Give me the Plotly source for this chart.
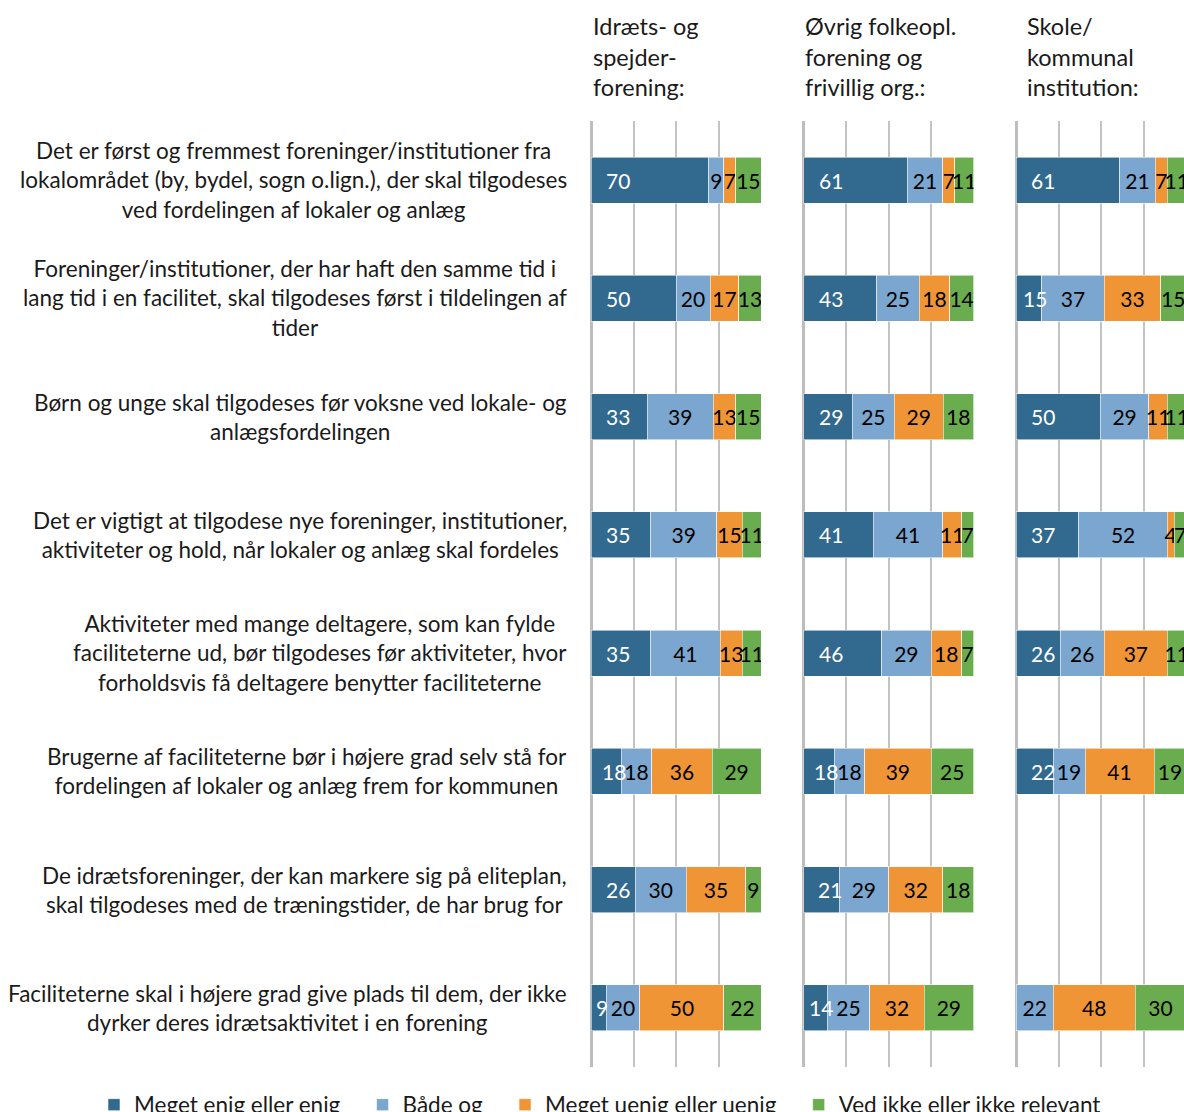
import plotly.graph_objects as go

# Statements (one row per statement, top to bottom)
statements = [
    "Det er først og fremmest foreninger/institutioner fra<br>lokalområdet (by, bydel, sogn o.lign.), der skal tilgodeses<br>ved fordelingen af lokaler og anlæg",
    "Foreninger/institutioner, der har haft den samme tid i<br>lang tid i en facilitet, skal tilgodeses først i tildelingen af<br>tider",
    "Børn og unge skal tilgodeses før voksne ved lokale- og<br>anlægsfordelingen",
    "Det er vigtigt at tilgodese nye foreninger, institutioner,<br>aktiviteter og hold, når lokaler og anlæg skal fordeles",
    "Aktiviteter med mange deltagere, som kan fylde<br>faciliteterne ud, bør tilgodeses før aktiviteter, hvor<br>forholdsvis få deltagere benytter faciliteterne",
    "Brugerne af faciliteterne bør i højere grad selv stå for<br>fordelingen af lokaler og anlæg frem for kommunen",
    "De idrætsforeninger, der kan markere sig på eliteplan,<br>skal tilgodeses med de træningstider, de har brug for",
    "Faciliteterne skal i højere grad give plads til dem, der ikke<br>dyrker deres idrætsaktivitet i en forening",
]

groups = [
    "Idræts- og<br>spejder-<br>forening:",
    "Øvrig folkeopl.<br>forening og<br>frivillig org.:",
    "Skole/<br>kommunal<br>institution:",
]

answers = ["Meget enig eller enig", "Både og", "Meget uenig eller uenig", "Ved ikke eller ikke relevant"]

# Idræts- og spejderforening
idraet_enig = [70, 50, 33, 35, 35, 18, 26, 9]
idraet_baade = [9, 20, 39, 39, 41, 18, 30, 20]
idraet_uenig = [7, 17, 13, 15, 13, 36, 35, 50]
idraet_vedikke = [15, 13, 15, 11, 11, 29, 9, 22]

# Øvrig folkeoplysende forening og frivillig organisation
oevrig_enig = [61, 43, 29, 41, 46, 18, 21, 14]
oevrig_baade = [21, 25, 25, 41, 29, 18, 29, 25]
oevrig_uenig = [7, 18, 29, 11, 18, 39, 32, 32]
oevrig_vedikke = [11, 14, 18, 7, 7, 25, 18, 29]

# Skole / kommunal institution (no answers for the elite statement)
skole_enig = [61, 15, 50, 37, 26, 22, None, 0]
skole_baade = [21, 37, 29, 52, 26, 19, None, 22]
skole_uenig = [7, 33, 11, 4, 37, 41, None, 48]
skole_vedikke = [11, 15, 11, 7, 11, 19, None, 30]

panels = [
    [idraet_enig, idraet_baade, idraet_uenig, idraet_vedikke],
    [oevrig_enig, oevrig_baade, oevrig_uenig, oevrig_vedikke],
    [skole_enig, skole_baade, skole_uenig, skole_vedikke],
]

colors = ["#31698F", "#7AA6CF", "#F09536", "#69AD4E"]
FONT = "Lato"
TEXT = "#1a1a1a"
LEGEND_PAD = "\u00a0" * 3  # extra room between legend entries

W, H = 1184, 1112
# panel pixel extents (100 % = 170 px)
panel_left = [591, 803.5, 1016]
panel_w = 170
plot_top, plot_bottom = 121, 1067

fig = go.Figure()
annotations = []

for p, series in enumerate(panels):
    xa = "x" if p == 0 else f"x{p + 1}"
    ya = "y" if p == 0 else f"y{p + 1}"
    for s, vals in enumerate(series):
        text = None if s == 0 else [("" if v is None else str(v)) for v in vals]
        legend_name = answers[s] + (LEGEND_PAD if s < len(answers) - 1 else "")
        fig.add_trace(go.Bar(
            x=vals, y=statements, orientation="h",
            name=legend_name, legendgroup=answers[s], showlegend=(p == 0),
            marker=dict(color=colors[s], line=dict(color="rgba(255,255,255,0.7)", width=0.8)),
            text=text, textposition="inside" if s else "none",
            insidetextanchor="middle", constraintext="none", textangle=0,
            textfont=dict(family=FONT, size=21, color="black"),
            hoverinfo="skip", xaxis=xa, yaxis=ya,
        ))
    # labels for the "enig" segment sit near the bar base
    for i, stmt in enumerate(statements):
        row = [series[k][i] for k in range(4)]
        if row[0] is None or row[0] == 0:
            continue
        share = row[0] / sum(row) * 100
        annotations.append(dict(
            x=min(16, 0.75 * share), xref=xa, y=stmt, yref=ya,
            xanchor="center", yanchor="middle", text=str(row[0]), showarrow=False,
            font=dict(family=FONT, size=21, color="white"),
        ))

fig.update_layout(barmode="stack", barnorm="percent", bargap=0.61)

ydom = [1 - plot_bottom / H, 1 - plot_top / H]
for p in range(3):
    left = panel_left[p] / W
    right = min(1.0, (panel_left[p] + panel_w) / W)
    xmax = (min(W, panel_left[p] + panel_w) - panel_left[p]) / panel_w * 100
    xkey = "xaxis" if p == 0 else f"xaxis{p + 1}"
    ykey = "yaxis" if p == 0 else f"yaxis{p + 1}"
    fig.layout[xkey] = dict(
        domain=[left, right], range=[0, xmax], anchor="y" if p == 0 else f"y{p + 1}",
        showgrid=True, gridcolor="#C3C3C3", gridwidth=2, dtick=25, tick0=0,
        zeroline=True, zerolinecolor="#BDBDBD", zerolinewidth=2.5,
        showticklabels=False, ticks="", showline=False, fixedrange=True,
    )
    fig.layout[ykey] = dict(
        domain=ydom, anchor="x" if p == 0 else f"x{p + 1}",
        type="category", categoryorder="array", categoryarray=statements,
        autorange="reversed", showticklabels=False, showgrid=False,
        zeroline=False, ticks="", fixedrange=True,
        matches=None if p == 0 else "y",
    )

# statement labels, centred in a block whose right edge is fixed
for s in statements:
    annotations.append(dict(
        x=569 / W, xref="paper", xanchor="right", y=s, yref="y", yanchor="middle",
        text=s, align="center", showarrow=False,
        font=dict(family=FONT, size=22.5, color=TEXT),
    ))
# group headers
header_x = [591, 803, 1025]
for g, hx in zip(groups, header_x):
    annotations.append(dict(
        x=hx / W, xref="paper", xanchor="left", y=1 - 10 / H, yref="paper", yanchor="top",
        text=g, align="left", showarrow=False,
        font=dict(family=FONT, size=23.5, color=TEXT),
    ))

fig.update_layout(
    annotations=annotations,
    width=W, height=H,
    margin=dict(l=0, r=0, t=0, b=0, autoexpand=False),
    paper_bgcolor="white", plot_bgcolor="white",
    font=dict(family=FONT, color=TEXT),
    legend=dict(
        orientation="h", x=600 / W, xanchor="center", y=1 - 1105 / H, yanchor="middle",
        font=dict(family=FONT, size=22.5, color=TEXT),
        itemwidth=30, traceorder="normal", bgcolor="rgba(0,0,0,0)",
    ),
)

fig.write_html("out.html")
